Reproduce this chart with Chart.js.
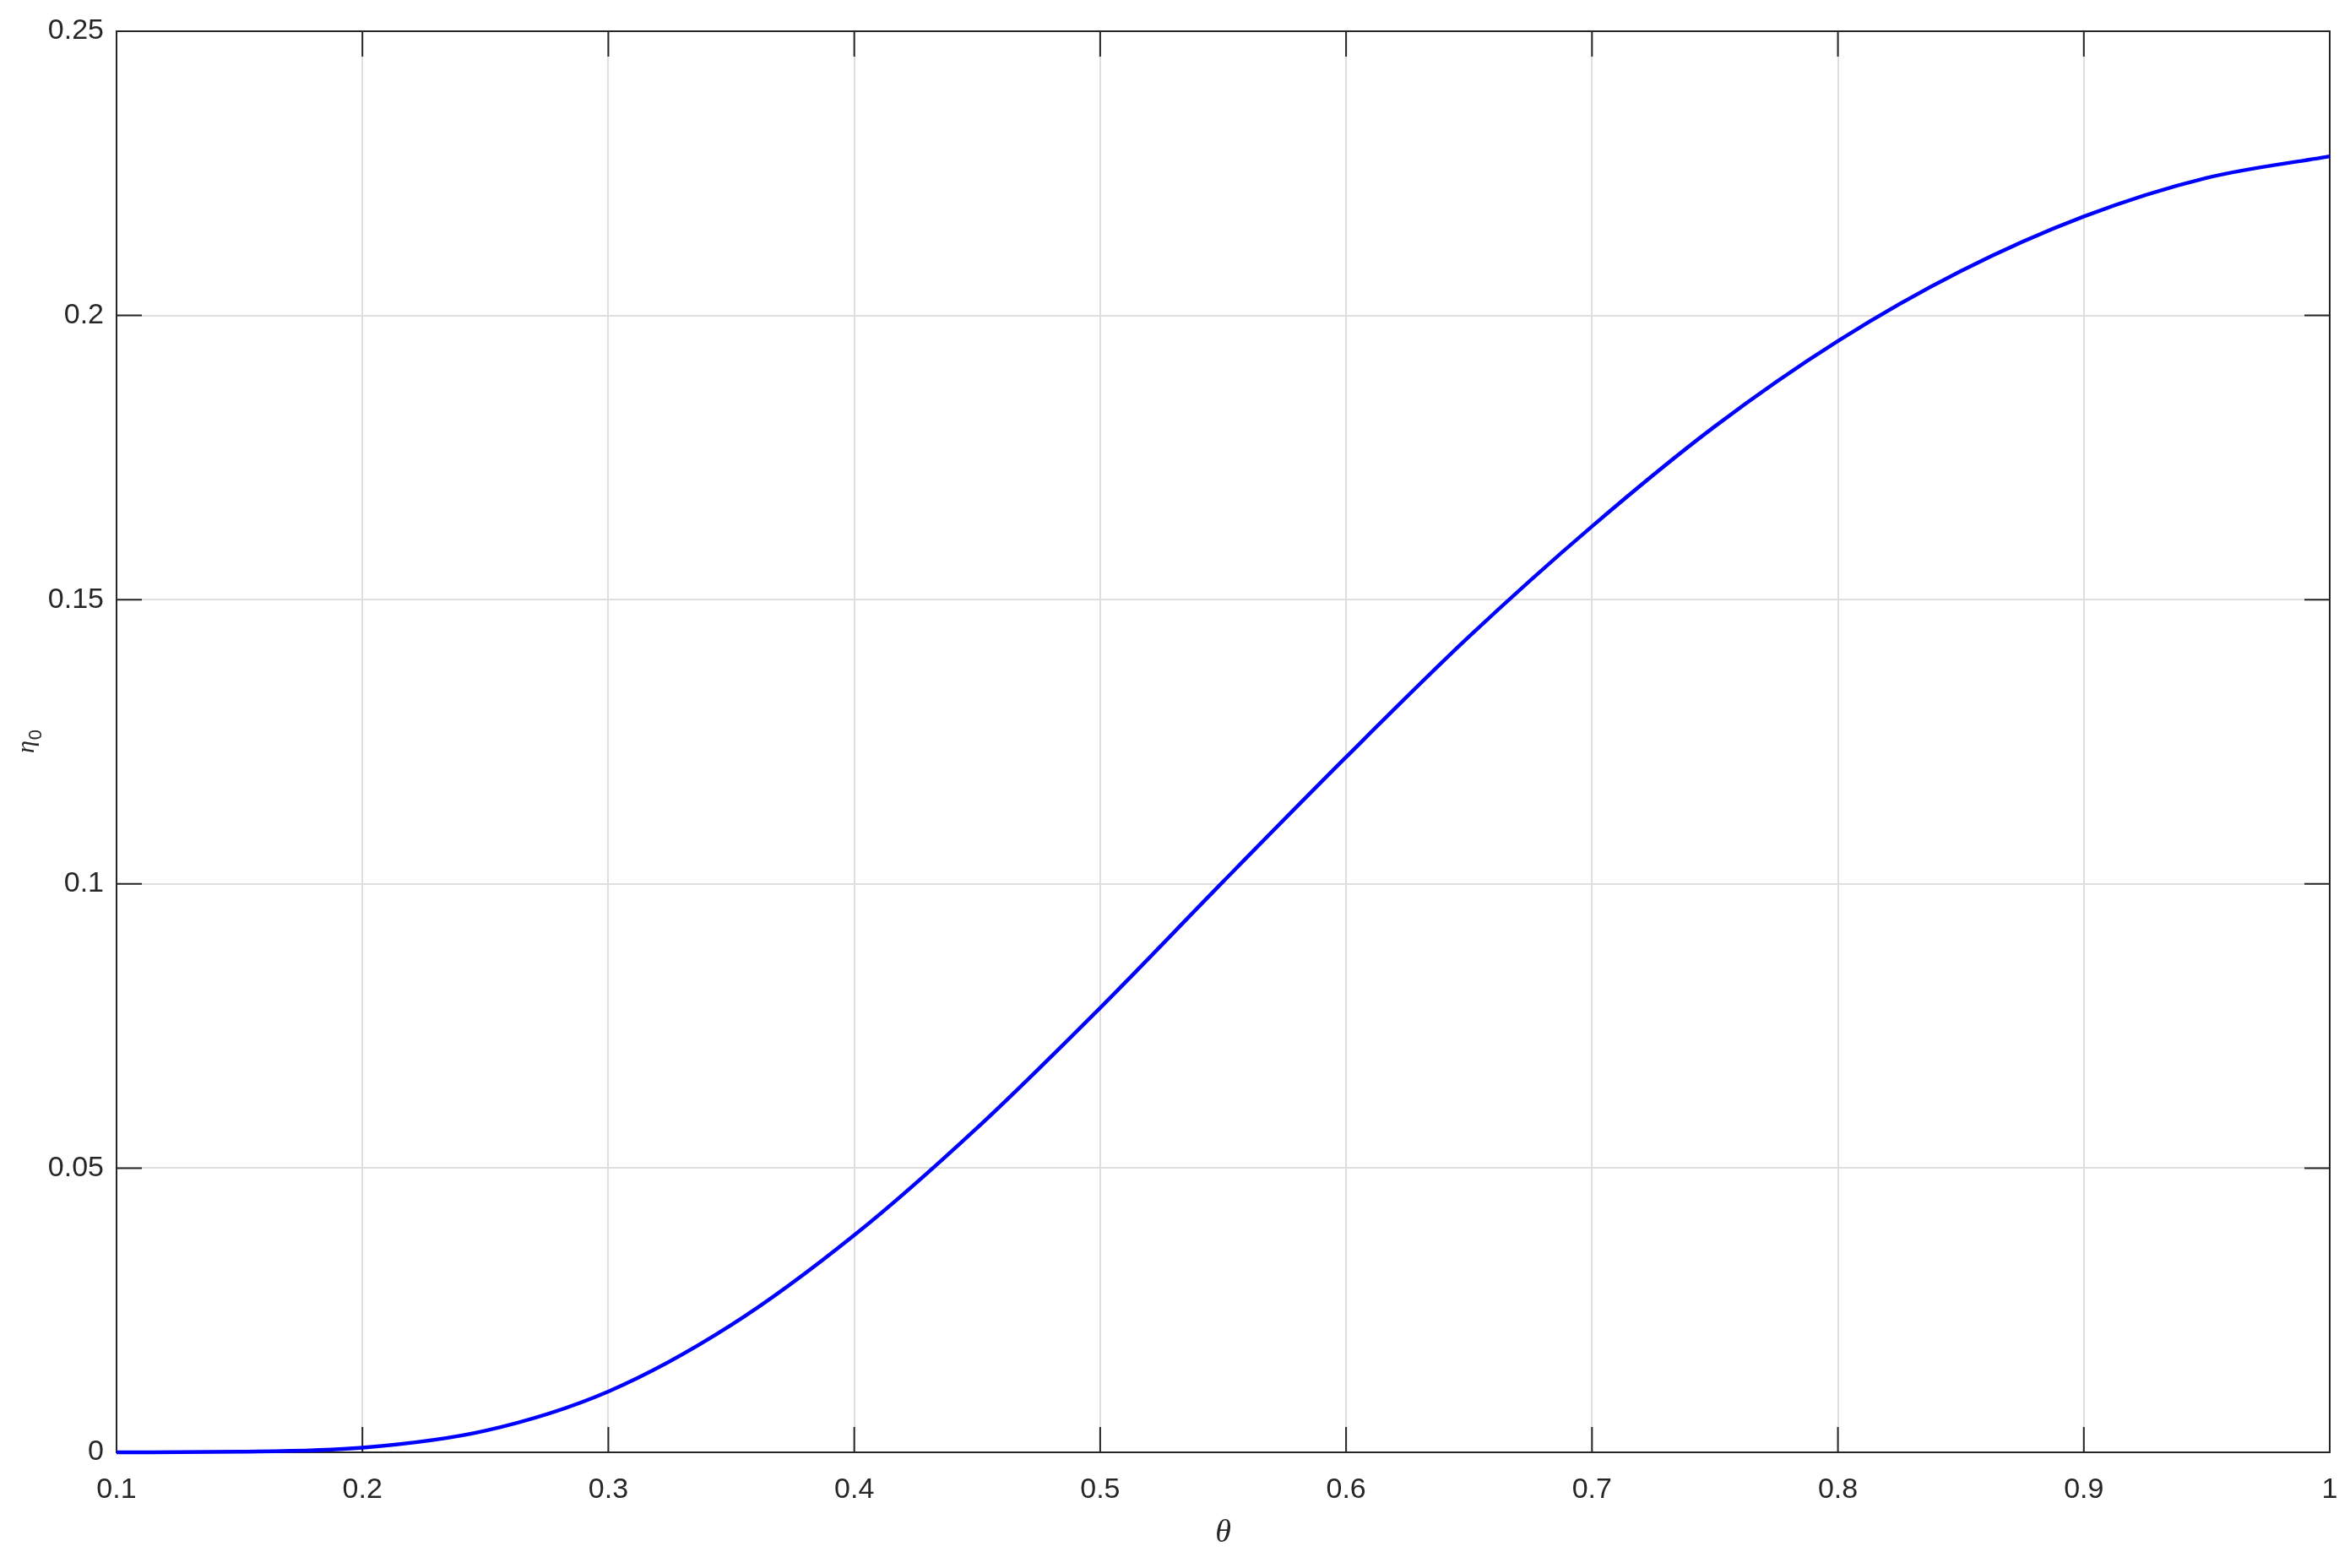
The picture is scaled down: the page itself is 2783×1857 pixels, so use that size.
<!DOCTYPE html>
<html>
<head>
<meta charset="utf-8">
<script src="https://cdn.jsdelivr.net/npm/chart.js@4"></script>
<style>
  html, body { margin: 0; padding: 0; background: #fff; }
  #wrap { width: 2783px; height: 1857px; }
</style>
</head>
<body>
<div id="wrap"><canvas id="lineChart"></canvas></div>
<script>
// values
const thetaValues = [0.1, 0.15, 0.2, 0.25, 0.3, 0.35, 0.4, 0.45, 0.5, 0.55,
                     0.6, 0.65, 0.7, 0.75, 0.8, 0.85, 0.9, 0.95, 1.0];
const etaValues = [0, 0.0001, 0.0008, 0.0038, 0.0107, 0.0224, 0.0382, 0.0571, 0.0782, 0.1004,
                   0.1223, 0.1435, 0.1629, 0.1805, 0.1955, 0.2078, 0.2174, 0.2242, 0.2280];
const xTickLabels = ["0.1", "0.2", "0.3", "0.4", "0.5", "0.6", "0.7", "0.8", "0.9", "1"];
const yTickLabels = ["0", "0.05", "0.1", "0.15", "0.2", "0.25"];
const xTitle = "θ";
const yTitle = ["η", "0"];

const tickFont = { family: "'Liberation Sans', Arial, sans-serif", size: 34 };
const axisColor = "#262626";
const tickLen = 30;

// box around the plot with inward ticks on all four sides, plus the y title
const frame = {
    id: "frame",
    beforeDatasetsDraw(chart){
        let ctx = chart.ctx, a = chart.chartArea;
        let x = chart.scales.x, y = chart.scales.y;
        ctx.save();
        ctx.strokeStyle = axisColor;
        ctx.lineWidth = 2;
        ctx.beginPath();
        x.ticks.forEach(t=>{
            let px = x.getPixelForValue(t.value);
            ctx.moveTo(px, a.bottom); ctx.lineTo(px, a.bottom - tickLen);
            ctx.moveTo(px, a.top); ctx.lineTo(px, a.top + tickLen);
        });
        y.ticks.forEach(t=>{
            let py = y.getPixelForValue(t.value);
            ctx.moveTo(a.left, py); ctx.lineTo(a.left + tickLen, py);
            ctx.moveTo(a.right, py); ctx.lineTo(a.right - tickLen, py);
        });
        ctx.stroke();
        ctx.strokeRect(a.left, a.top, a.right - a.left, a.bottom - a.top);

        // eta with subscript 0, rotated
        ctx.translate(40, (a.top + a.bottom) / 2);
        ctx.rotate(-Math.PI / 2);
        ctx.fillStyle = axisColor;
        ctx.textBaseline = "alphabetic";
        ctx.font = "italic 30px 'Liberation Serif', 'DejaVu Serif', serif";
        let w = ctx.measureText(yTitle[0]).width;
        ctx.font = "22px 'Liberation Sans', Arial, sans-serif";
        let w2 = ctx.measureText(yTitle[1]).width;
        let x0 = -(w + w2) / 2;
        ctx.font = "italic 30px 'Liberation Serif', 'DejaVu Serif', serif";
        ctx.fillText(yTitle[0], x0, 0);
        ctx.font = "22px 'Liberation Sans', Arial, sans-serif";
        ctx.fillText(yTitle[1], x0 + w + 1, 9);
        ctx.restore();
    }
};

new Chart(document.getElementById("lineChart"), {
    type: "line",
    data: {
        datasets: [{
            data: thetaValues.map((t, i) => ({ x: t, y: etaValues[i] })),
            borderColor: "#0000ff",
            borderWidth: 4.5,
            pointRadius: 0,
            cubicInterpolationMode: "monotone",
            clip: 6
        }]
    },
    options: {
        animation: false,
        responsive: true,
        maintainAspectRatio: false,
        devicePixelRatio: 1,
        layout: { padding: { top: 37, right: 24, left: 0, bottom: 0 } },
        plugins: { legend: { display: false }, tooltip: { enabled: false } },
        scales: {
            x: {
                type: "linear",
                min: 0.1, max: 1,
                afterFit: s => { s.height = 137; s.paddingLeft = 0; s.paddingRight = 0; },
                ticks: {
                    stepSize: 0.1,
                    padding: 24,
                    color: axisColor,
                    font: tickFont,
                    maxRotation: 0,
                    callback: (v, i) => xTickLabels[i]
                },
                grid: { color: "#dfdfdf", lineWidth: 2, drawTicks: false },
                border: { display: false },
                title: {
                    display: true,
                    text: xTitle,
                    color: axisColor,
                    font: { family: "'Liberation Serif', 'DejaVu Serif', serif", size: 38, style: "italic" },
                    padding: { top: 0, bottom: 18 }
                }
            },
            y: {
                min: 0, max: 0.25,
                afterFit: s => { s.width = 138; s.paddingTop = 0; s.paddingBottom = 0; },
                ticks: {
                    stepSize: 0.05,
                    padding: 15,
                    color: axisColor,
                    font: tickFont,
                    callback: (v, i) => yTickLabels[i]
                },
                grid: { color: "#dfdfdf", lineWidth: 2, drawTicks: false },
                border: { display: false }
            }
        }
    },
    plugins: [frame]
});
</script>
</body>
</html>
